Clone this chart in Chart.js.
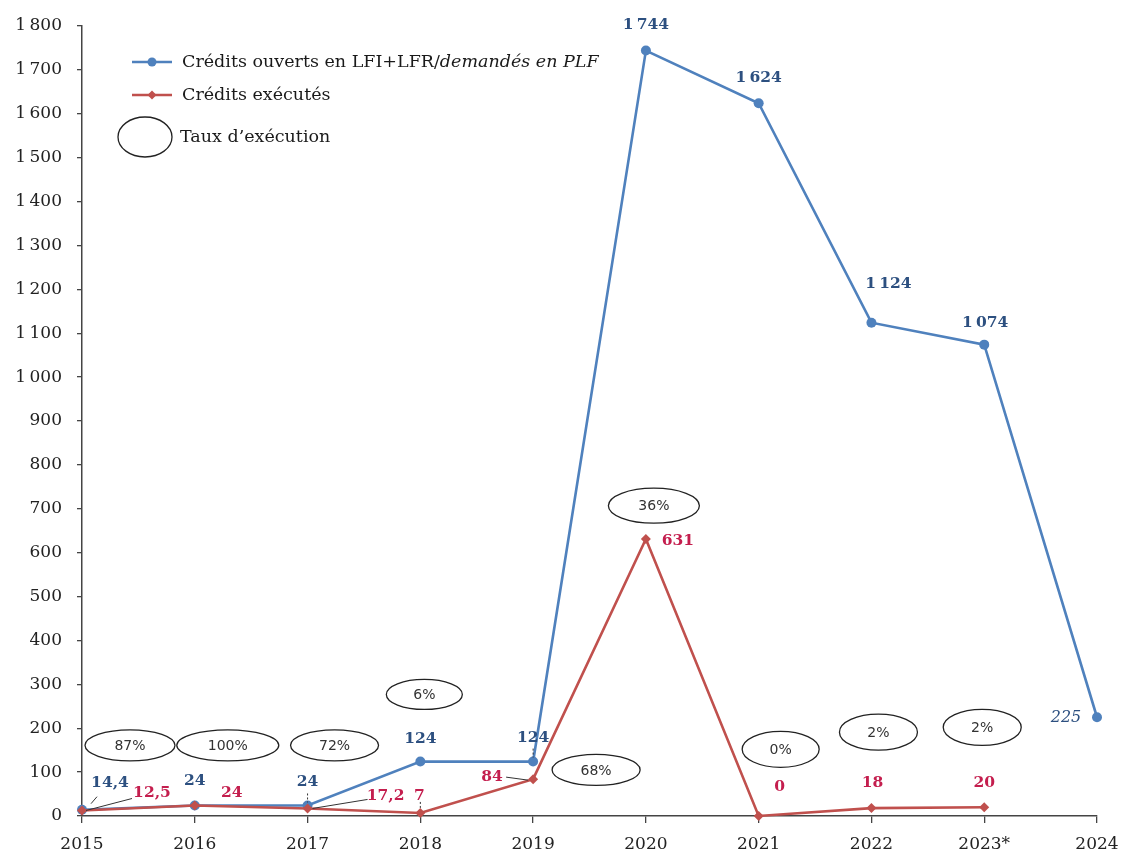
<!DOCTYPE html>
<html>
<head>
<meta charset="utf-8">
<script src="https://cdn.jsdelivr.net/npm/chart.js@4/dist/chart.umd.min.js"></script>
<style>
  html, body { margin: 0; padding: 0; background: #ffffff; }
  canvas { display: block; }
</style>
</head>
<body>
<canvas id="chart" width="1123" height="852"></canvas>
<script>
// ---- Data ----
const years = ['2015', '2016', '2017', '2018', '2019', '2020', '2021', '2022', '2023*', '2024'];
const creditsOuverts = [14.4, 24, 24, 124, 124, 1744, 1624, 1124, 1074, 225];
const creditsExecutes = [12.5, 24, 17.2, 7, 84, 631, 0, 18, 20, null];
const tauxExecution = ['87%', '100%', '72%', '6%', '68%', '36%', '0%', '2%', '2%'];
const yTickValues = [0, 100, 200, 300, 400, 500, 600, 700, 800, 900, 1000, 1100, 1200, 1300, 1400, 1500, 1600, 1700, 1800];

// ---- Styling / placement ----
const SERIF = '"DejaVu Serif", "Liberation Serif", serif';
const BLUE = '#4F81BD';
const RED = '#C0504D';
const BLUE_TXT = '#2D5080';
const RED_TXT = '#C41E4E';

// French number format with a narrow space as thousands separator
function frNumber(v) {
  const neg = v < 0;
  let [ip, dp] = Math.abs(v).toString().split('.');
  ip = ip.replace(/\B(?=(\d{3})+(?!\d))/g, '\u202F');
  return (neg ? '-' : '') + ip + (dp ? ',' + dp : '');
}

// label offsets (px) from each point, per series
const ouvertsLabelPos = [
  { dx: 28, dy: -27 }, { dx: 0, dy: -24 }, { dx: 0, dy: -23 }, { dx: 0, dy: -23 }, { dx: 0, dy: -24 },
  { dx: 0, dy: -26 }, { dx: 0, dy: -25 }, { dx: 17, dy: -39 }, { dx: 1, dy: -22 }, { dx: -31, dy: 1, italic: true }
];
const executesLabelPos = [
  { dx: 70, dy: -18 }, { dx: 37, dy: -12 }, { dx: 78, dy: -12 }, { dx: -1, dy: -17 }, { dx: -41, dy: -2 },
  { dx: 32, dy: 2 }, { dx: 21, dy: -29 }, { dx: 1, dy: -25 }, { dx: 0, dy: -24 }
];
// leader lines: [series, index, x1, y1, x2, y2, dashed] offsets from the point
const leaders = [
  [0, 0, 9, -6, 15, -13, false],
  [1, 0, 4, 0, 50, -12, false],
  [0, 2, 0, -12, 0, -3, true],
  [1, 2, 5, 0, 60, -9, false],
  [1, 3, 0, -11, 0, -3, true],
  [1, 4, -27, -2, -5, 1, false],
  [0, 4, 0, -13, 0, -4, true]
];
// execution-rate bubbles: category index + pixel shift, y in data units, size in px
const bubblePos = [
  { i: 0, dx: 48, y: 161, w: 90, h: 31 },
  { i: 1, dx: 33, y: 161, w: 102, h: 31 },
  { i: 2, dx: 27, y: 161, w: 88, h: 31 },
  { i: 3, dx: 4, y: 277, w: 76, h: 30 },
  { i: 4, dx: 63, y: 105, w: 88, h: 31 },
  { i: 5, dx: 8, y: 707, w: 91, h: 35 },
  { i: 6, dx: 22, y: 152, w: 77, h: 36 },
  { i: 7, dx: 7, y: 191, w: 78, h: 36 },
  { i: 8, dx: -2, y: 202, w: 78, h: 36 }
];

const overlay = {
  id: 'overlay',
  afterDatasetsDraw(chart) {
    const ctx = chart.ctx;
    const xs = chart.scales.x, ys = chart.scales.y;
    const metaO = chart.getDatasetMeta(0);
    const metaE = chart.getDatasetMeta(1);
    const metas = [metaO, metaE];
    ctx.save();

    // leader lines
    ctx.strokeStyle = '#333';
    ctx.lineWidth = 1;
    leaders.forEach(([s, i, x1, y1, x2, y2, dashed]) => {
      const p = metas[s].data[i];
      ctx.setLineDash(dashed ? [2, 2] : []);
      ctx.beginPath();
      ctx.moveTo(p.x + x1, p.y + y1);
      ctx.lineTo(p.x + x2, p.y + y2);
      ctx.stroke();
    });
    ctx.setLineDash([]);

    // value labels
    ctx.textAlign = 'center';
    ctx.textBaseline = 'middle';
    creditsOuverts.forEach((v, i) => {
      const p = metaO.data[i];
      const pos = ouvertsLabelPos[i];
      ctx.font = (pos.italic ? 'italic 16px ' : 'bold 15.5px ') + SERIF;
      ctx.fillStyle = BLUE_TXT;
      ctx.fillText(frNumber(v), p.x + pos.dx, p.y + pos.dy);
    });
    creditsExecutes.forEach((v, i) => {
      if (v === null) return;
      const p = metaE.data[i];
      const pos = executesLabelPos[i];
      ctx.font = 'bold 15.5px ' + SERIF;
      ctx.fillStyle = RED_TXT;
      ctx.fillText(frNumber(v), p.x + pos.dx, p.y + pos.dy);
    });

    // execution-rate bubbles
    ctx.strokeStyle = '#222';
    ctx.lineWidth = 1.3;
    ctx.font = '14px "DejaVu Sans", sans-serif';
    ctx.fillStyle = '#333';
    tauxExecution.forEach((t, k) => {
      const b = bubblePos[k];
      const cx = xs.getPixelForValue(b.i) + b.dx;
      const cy = ys.getPixelForValue(b.y);
      ctx.beginPath();
      ctx.ellipse(cx, cy, b.w / 2, b.h / 2, 0, 0, Math.PI * 2);
      ctx.stroke();
      ctx.fillText(t, cx, cy + 1);
    });

    // legend
    ctx.textAlign = 'left';
    ctx.textBaseline = 'middle';
    const lx = 132, tx = 182;
    // series 1
    ctx.strokeStyle = BLUE; ctx.lineWidth = 2.5;
    ctx.beginPath(); ctx.moveTo(lx, 62); ctx.lineTo(lx + 40, 62); ctx.stroke();
    ctx.fillStyle = BLUE;
    ctx.beginPath(); ctx.arc(lx + 20, 62, 4.5, 0, Math.PI * 2); ctx.fill();
    ctx.fillStyle = '#1a1a1a';
    ctx.font = '17.5px ' + SERIF;
    const part1 = 'Crédits ouverts en LFI+LFR/';
    ctx.fillText(part1, tx, 62);
    const w1 = ctx.measureText(part1).width;
    ctx.font = 'italic 17.5px ' + SERIF;
    ctx.fillText('demandés en PLF', tx + w1, 62);
    // series 2
    ctx.strokeStyle = RED; ctx.lineWidth = 2.5;
    ctx.beginPath(); ctx.moveTo(lx, 95); ctx.lineTo(lx + 40, 95); ctx.stroke();
    ctx.fillStyle = RED;
    ctx.beginPath();
    ctx.moveTo(lx + 20, 90.5); ctx.lineTo(lx + 24.5, 95); ctx.lineTo(lx + 20, 99.5); ctx.lineTo(lx + 15.5, 95);
    ctx.closePath(); ctx.fill();
    ctx.fillStyle = '#1a1a1a';
    ctx.font = '17.5px ' + SERIF;
    ctx.fillText('Crédits exécutés', tx, 95);
    // rate bubble key
    ctx.strokeStyle = '#222'; ctx.lineWidth = 1.3;
    ctx.beginPath(); ctx.ellipse(145, 137, 27, 20, 0, 0, Math.PI * 2); ctx.stroke();
    ctx.fillText('Taux d\u2019exécution', 180, 137);

    ctx.restore();
  }
};

new Chart(document.getElementById('chart').getContext('2d'), {
  type: 'line',
  data: {
    labels: years,
    datasets: [
      {
        label: 'Crédits ouverts en LFI+LFR/demandés en PLF',
        data: creditsOuverts,
        borderColor: BLUE,
        backgroundColor: BLUE,
        borderWidth: 2.6,
        pointStyle: 'circle',
        pointRadius: 5,
        pointBorderWidth: 0,
        tension: 0,
        order: 2
      },
      {
        label: 'Crédits exécutés',
        data: creditsExecutes,
        borderColor: RED,
        backgroundColor: RED,
        borderWidth: 2.6,
        pointStyle: 'rectRot',
        pointRadius: 5,
        pointBorderWidth: 0,
        tension: 0,
        order: 1
      }
    ]
  },
  options: {
    responsive: false,
    animation: false,
    devicePixelRatio: 1,
    clip: false,
    layout: { padding: { top: 26, right: 26, left: 0, bottom: 0 } },
    plugins: { legend: { display: false }, tooltip: { enabled: false } },
    scales: {
      x: {
        type: 'category',
        offset: false,
        grid: { display: true, drawOnChartArea: false, drawTicks: true, tickLength: 7, color: '#444', lineWidth: 1.3 },
        border: { display: true, color: '#444', width: 1.5 },
        ticks: { font: { family: SERIF, size: 17 }, color: '#222', padding: 11, maxRotation: 0, autoSkip: false },
        afterFit(s) { s.height = 36; s.paddingLeft = 0; s.paddingRight = 0; }
      },
      y: {
        min: 0,
        max: 1800,
        afterBuildTicks(s) { s.ticks = yTickValues.map(v => ({ value: v })); },
        grid: { display: true, drawOnChartArea: false, drawTicks: true, tickLength: 5, color: '#444', lineWidth: 1.3 },
        border: { display: true, color: '#444', width: 1.5 },
        ticks: { font: { family: SERIF, size: 17 }, color: '#222', padding: 15, callback: v => frNumber(v) },
        afterFit(s) { s.width = 82; s.paddingTop = 0; s.paddingBottom = 0; }
      }
    }
  },
  plugins: [overlay]
});
</script>
</body>
</html>
